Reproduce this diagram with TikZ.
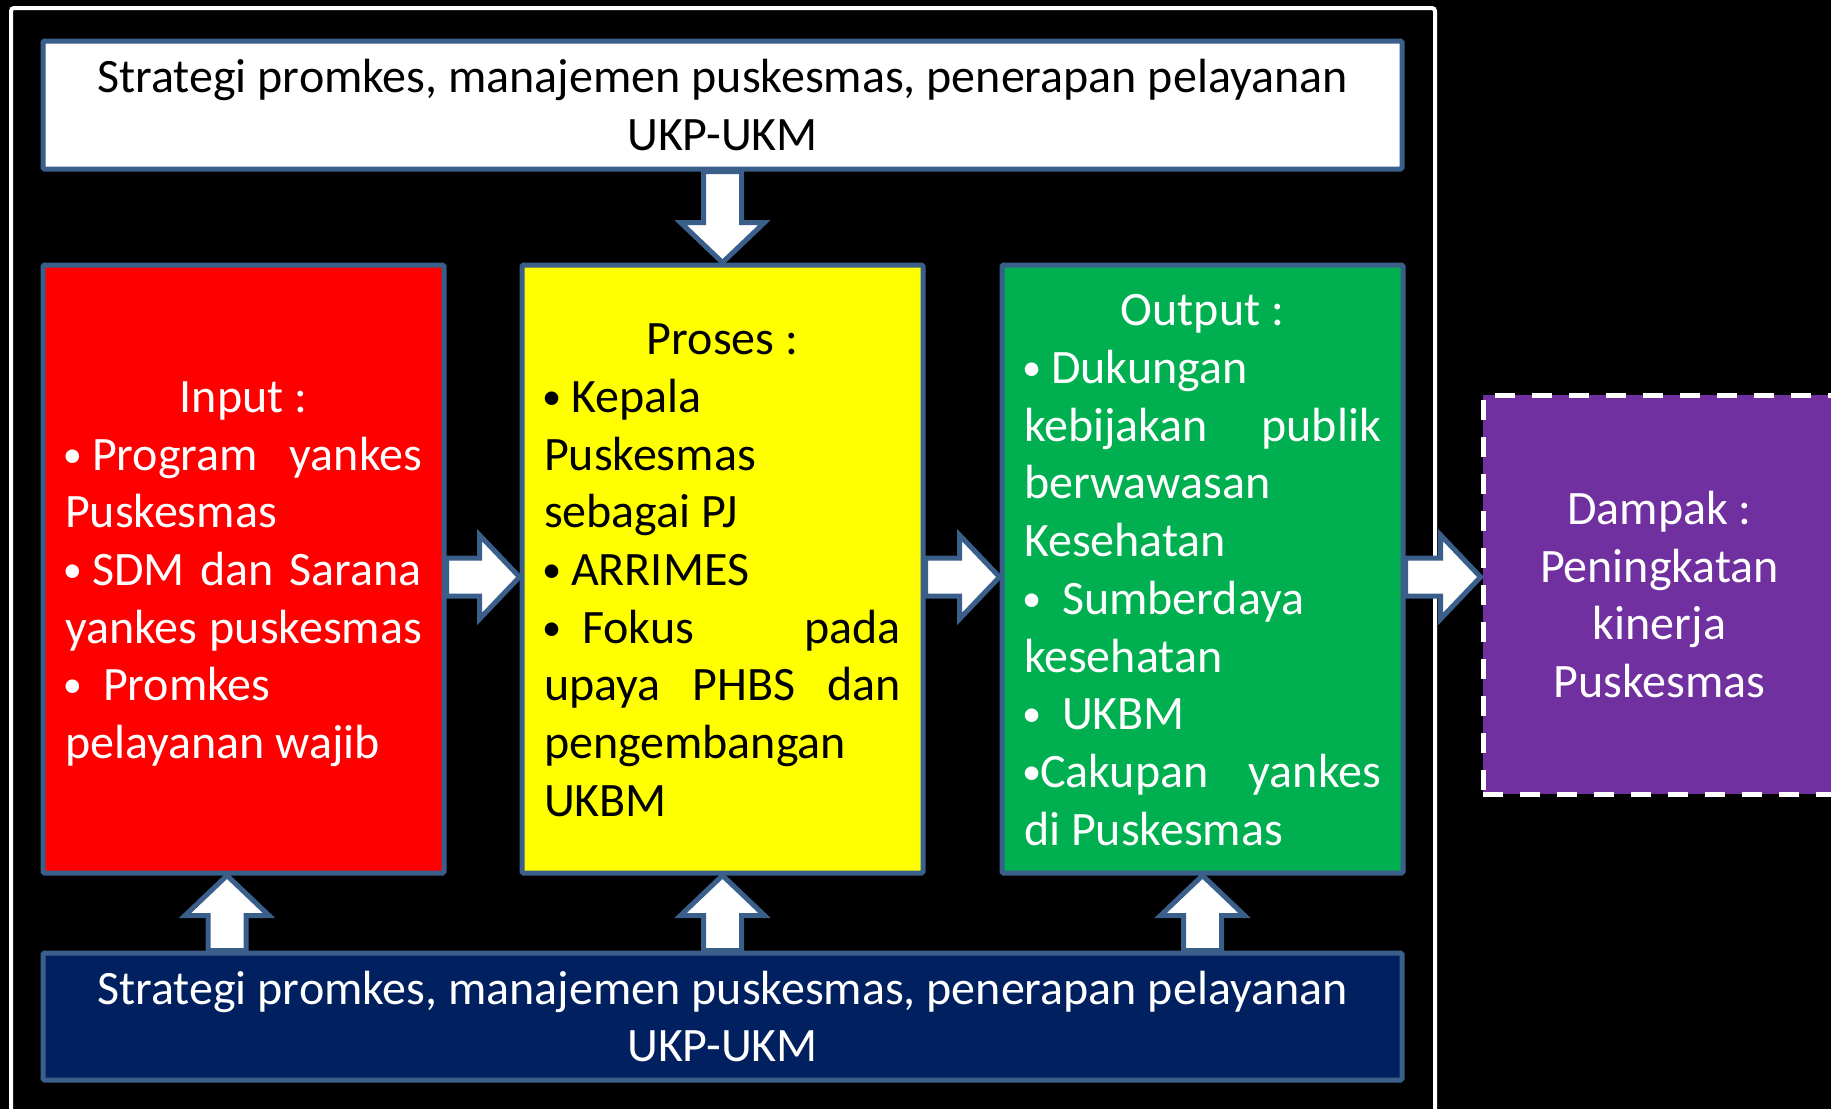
\documentclass[tikz,border=0pt]{standalone}
\usepackage{fontspec}
\setmainfont{Carlito}
\usetikzlibrary{calc}

\definecolor{edgeblue}{HTML}{3A5F8B}
\definecolor{boxred}{HTML}{FF0000}
\definecolor{boxyellow}{HTML}{FFFF00}
\definecolor{boxgreen}{HTML}{00B050}
\definecolor{boxnavy}{HTML}{002060}
\definecolor{boxpurple}{HTML}{7030A0}

\newlength\boxtw
\setlength\boxtw{357pt}
% a compact bullet, and a bullet followed by a fixed (non-stretching) space
\newcommand\bul{\makebox[16pt][l]{\kern-2pt\raisebox{3pt}{\scalebox{0.8}{•}}}}
\newcommand\bu{\bul\kern.23em}
% natural interword spacing inside the panels
\newcommand\natspaces{\spaceskip=0pt\xspaceskip=0pt\relax}
% struts that fix the first-line height and last-line depth of a panel text
\newcommand\topstrut{\rule{0pt}{48pt}}
\newcommand\botstrut{\rule[-15pt]{0pt}{15pt}}
% a justified line of the list panels
\newcommand\jline[1]{\makebox[\boxtw][s]{#1}}

% right-pointing block arrow from #1 to its tip #2
\newcommand\rightblock[2]{%
  \draw[blockarrow] ($(#1)+(0,-19)$) -- ($(#2)+(-40,-19)$) -- ($(#2)+(-40,-42)$)
    -- (#2) -- ($(#2)+(-40,42)$) -- ($(#2)+(-40,19)$) -- ($(#1)+(0,19)$) -- cycle;}
% vertical block arrow from #1 to its tip #2; #3 is the offset of the head base
\newcommand\vertblock[3]{%
  \draw[blockarrow] ($(#1)+(-19,0)$) -- ($(#2)+(-19,#3)$) -- ($(#2)+(-42,#3)$)
    -- (#2) -- ($(#2)+(42,#3)$) -- ($(#2)+(19,#3)$) -- ($(#1)+(19,0)$) -- cycle;}

\tikzset{
  panel/.style={draw=edgeblue, line width=5pt, rounded corners=1.5pt, inner sep=0pt,
    font=\fontsize{48pt}{57.7pt}\selectfont},
  listpanel/.style={panel, minimum width=401pt, minimum height=608pt,
    text width=\boxtw, align=left},
  widepanel/.style={panel, minimum width=1359pt, minimum height=128pt, align=center},
  blockarrow/.style={draw=edgeblue, fill=white, line width=5pt, line join=miter},
}

\begin{document}
\begin{tikzpicture}[x=1pt, y=-1pt]
  \useasboundingbox (0,0) rectangle (1831,1109);
  \clip (0,0) rectangle (1831,1109);
  \fill[black] (0,0) rectangle (1831,1109);

  % outer white frame
  \draw[white, line width=4pt, rounded corners=3pt] (11,8) rectangle (1435,1150);

  % strategy panels
  \node[widepanel, fill=white, text=black] (top) at (722.5,105)
    {\natspaces\topstrut Strategi promkes, manajemen puskesmas, penerapan pelayanan\\UKP-UKM\botstrut};
  \node[widepanel, fill=boxnavy, text=white, minimum height=127pt] (bottom) at (722.5,1016.5)
    {\natspaces\topstrut Strategi promkes, manajemen puskesmas, penerapan pelayanan\\UKP-UKM\botstrut};

  % input / process / output panels
  \node[listpanel, fill=boxred, text=white] (input) at (243.5,569) {%
    \natspaces
    \topstrut\makebox[\boxtw]{Input :}\\
    \jline{\bu Program\hfill yankes}\\
    Puskesmas\\
    \jline{\bu SDM dan Sarana}\\
    \jline{yankes puskesmas}\\
    \bu\kern.23em Promkes\\
    pelayanan wajib\botstrut};

  \node[listpanel, fill=boxyellow, text=black] (proses) at (722.5,569) {%
    \natspaces
    \topstrut\makebox[\boxtw]{Proses :}\\
    \bu Kepala\\
    Puskesmas\\
    sebagai PJ\\
    \bu ARRIMES\\
    \jline{\bu\kern.23em Fokus\hfill pada}\\
    \jline{upaya PHBS dan}\\
    pengembangan\\
    UKBM\botstrut};

  \node[listpanel, fill=boxgreen, text=white] (output) at (1202.5,569) {%
    \natspaces
    \topstrut\makebox[\boxtw]{Output :}\\
    \bu Dukungan\\
    \jline{kebijakan publik}\\
    berwawasan\\
    Kesehatan\\
    \bu\kern.23em Sumberdaya\\
    kesehatan\\
    \bu\kern.23em UKBM\\
    \jline{\bul Cakupan\hfill yankes}\\
    di Puskesmas\botstrut};

  % impact panel
  \node[panel, fill=boxpurple, text=white, draw=white, dash pattern=on 20pt off 17pt,
        rounded corners=0pt, minimum width=353pt, minimum height=399pt, align=center]
    (dampak) at (1659.5,594.5)
    {\natspaces\topstrut Dampak :\\Peningkatan\\kinerja\\Puskesmas\botstrut};

  % arrow anchors
  \coordinate (row) at (0,577);
  \coordinate (colA) at (227,0);
  \coordinate (h1s) at (input.east |- row);
  \coordinate (h1t) at (proses.west |- row);
  \coordinate (h2s) at (proses.east |- row);
  \coordinate (h2t) at (output.west |- row);
  \coordinate (h3s) at (output.east |- row);
  \coordinate (h3t) at (dampak.west |- row);
  \coordinate (u1s) at (colA |- bottom.north);
  \coordinate (u1t) at (colA |- input.south);
  \coordinate (u2s) at (proses.south |- bottom.north);
  \coordinate (u3s) at (output.south |- bottom.north);

  % block arrows
  \vertblock{top.south}{proses.north}{-40}
  \rightblock{h1s}{h1t}
  \rightblock{h2s}{h2t}
  \rightblock{h3s}{h3t}
  \vertblock{u1s}{u1t}{40}
  \vertblock{u2s}{proses.south}{40}
  \vertblock{u3s}{output.south}{40}
\end{tikzpicture}
\end{document}
